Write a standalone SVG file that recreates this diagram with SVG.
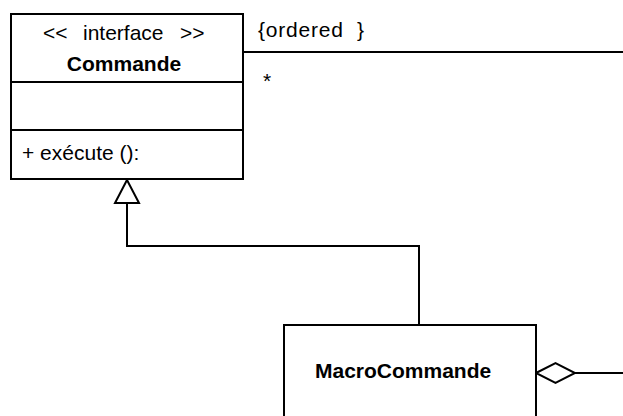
<svg xmlns="http://www.w3.org/2000/svg" width="623" height="416" viewBox="0 0 623 416">
<style>
  .box { fill: #fff; stroke: #000; stroke-width: 2; }
  .ln { fill: none; stroke: #000; stroke-width: 2; }
  .t { font-family: "Liberation Sans", Arial, sans-serif; font-size: 21px; fill: #000; }
  .b { font-weight: bold; }
</style>
<rect width="623" height="416" fill="#fff"/>
<g id="connectors">
  <polyline class="ln" points="243,52 623,52"/>
  <polyline class="ln" points="127,203 127,246 419,246 419,325"/>
  <polygon class="box" points="127,180 139,203 115,203"/>
  <polyline class="ln" points="575,373 623,373"/>
  <polygon class="box" points="536,373 555.5,363 575,373 555.5,383"/>
  <text class="t" x="258" y="37" letter-spacing="0.8">{ordered<tspan x="357" letter-spacing="0">}</tspan></text>
  <text class="t" x="263" y="88">*</text>
</g>
<g id="Commande">
  <rect class="box" x="11" y="14" width="232" height="165"/>
  <line class="ln" x1="11" y1="82" x2="243" y2="82"/>
  <line class="ln" x1="11" y1="130" x2="243" y2="130"/>
  <text class="t" x="43" y="40">&lt;&lt;<tspan x="83">interface</tspan><tspan x="180">&gt;&gt;</tspan></text>
  <text class="t b" x="124" y="71" text-anchor="middle">Commande</text>
  <text class="t" x="22" y="160">+ exécute ():</text>
</g>
<g id="MacroCommande">
  <rect class="box" x="284" y="325" width="252" height="110"/>
  <text class="t b" x="315" y="378">MacroCommande</text>
</g>
</svg>
